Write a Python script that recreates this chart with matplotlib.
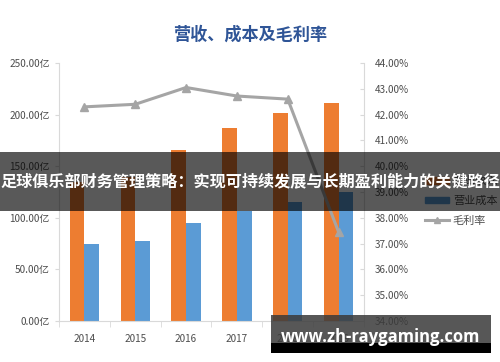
import numpy as np
import matplotlib
matplotlib.use("Agg")
import matplotlib.pyplot as plt
from matplotlib.patches import Rectangle
from matplotlib.lines import Line2D
from matplotlib.ticker import FuncFormatter

plt.rcParams['font.family'] = ['Noto Sans CJK SC', 'DejaVu Sans']

years = ['2014', '2015', '2016', '2017', '2018', '2019']
revenue = [135, 140, 166, 187, 202, 211]       # 营业收入 (亿)
cost = [74.5, 78, 95, 107, 115, 125]           # 营业成本 (亿)
margin = [42.3, 42.4, 43.05, 42.72, 42.6, 37.45]  # 毛利率 (%)

c_rev = '#ED7D31'
c_cost = '#5B9BD5'
c_line = '#A5A5A5'
c_txt = '#4D4D4D'
c_axis = '#D9D9D9'

fig = plt.figure(figsize=(5, 3.62), dpi=100)
ax = fig.add_axes([0.118, 0.113, 0.610, 0.713])
ax2 = ax.twinx()

x = np.arange(len(years))
w = 0.29
ax.bar(x - w / 2, revenue, w, color=c_rev, label='营业收入')
ax.bar(x + w / 2, cost, w, color=c_cost, label='营业成本')
ax2.plot(x, margin, color=c_line, lw=2.2, marker='^', ms=6, label='毛利率')

ax.set_xlim(-0.5, len(years) - 0.5)
ax.set_ylim(0, 250)
ax.set_yticks(np.arange(0, 251, 50))
ax.yaxis.set_major_formatter(FuncFormatter(lambda v, p: f'{v:.2f}亿'))
ax2.set_ylim(34, 44)
ax2.set_yticks(np.arange(34, 44.1, 1))
ax2.yaxis.set_major_formatter(FuncFormatter(lambda v, p: f'{v:.2f}%'))

ax.set_xticks(x)
ax.set_xticklabels(years)
ax.set_xticks(np.arange(-0.5, len(years)), minor=True)
ax.tick_params(axis='x', which='major', length=0, labelsize=7.2, colors=c_txt, pad=9)
ax.tick_params(axis='x', which='minor', length=4, color=c_axis)
ax.tick_params(axis='y', length=3, color=c_axis, labelsize=7.2, labelcolor=c_txt)
ax2.tick_params(axis='y', direction='in', length=3, color=c_axis, labelsize=7.2,
                labelcolor=c_txt, pad=8)

for a in (ax, ax2):
    for s in a.spines.values():
        s.set_visible(False)
ax.spines['left'].set_visible(True)
ax.spines['left'].set_color(c_axis)
ax.spines['bottom'].set_visible(True)
ax.spines['bottom'].set_color(c_axis)
ax2.spines['right'].set_visible(True)
ax2.spines['right'].set_color(c_axis)

fig.text(0.5, 0.903, '营收、成本及毛利率', ha='center', va='center',
         fontsize=12.3, fontweight='bold', color='#2F5597')

handles = [Rectangle((0, 0), 1, 1, color=c_rev),
           Rectangle((0, 0), 1, 1, color=c_cost),
           Line2D([], [], color=c_line, lw=2.2, marker='^', ms=5)]
fig.legend(handles, ['营业收入', '营业成本', '毛利率'], loc='center left',
           bbox_to_anchor=(0.83, 0.445), frameon=False, fontsize=8,
           labelcolor=c_txt, handlelength=2.2, handleheight=0.5,
           handletextpad=0.3, labelspacing=0.85)

# overlay banner
fig.add_artist(Rectangle((0, 0.417), 1, 0.163, transform=fig.transFigure,
                         color='black', alpha=0.65, lw=0, zorder=10))
fig.text(0.5, 0.498, '足球俱乐部财务管理策略：实现可持续发展与长期盈利能力的关键路径',
         ha='center', va='center', fontsize=11.6, fontweight='bold',
         color='white', zorder=11)

# watermark box
fig.add_artist(Rectangle((0.542, 0.025), 0.44, 0.105, transform=fig.transFigure,
                         color='#3a3a3a', alpha=0.85, lw=0, zorder=10))
fig.add_artist(Rectangle((0.542, 0.025), 0.44, 0.028, transform=fig.transFigure,
                         color='black', lw=0, zorder=10))
fig.text(0.762, 0.069, 'www.zh-raygaming.com', ha='center', va='center',
         fontsize=12, fontweight='bold', family=['Open Sans', 'DejaVu Sans'],
         color='white', zorder=11)

fig.savefig('out.png', dpi=100, facecolor='white')
